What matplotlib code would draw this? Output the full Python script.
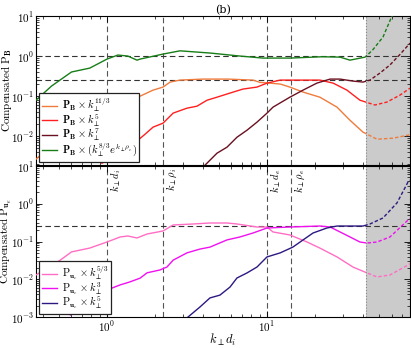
import numpy as np
import matplotlib
matplotlib.use("Agg")
from matplotlib import pyplot as plt
from matplotlib import transforms as mtransforms
from matplotlib.patches import Rectangle
from matplotlib.ticker import FuncFormatter, LogLocator, NullFormatter

plt.rcParams['mathtext.fontset'] = 'cm'
plt.rcParams['font.family'] = ['DejaVu Serif']

# ---- data ----
k_min, k_max = 0.36, 78.3
k_shade = 41.4
k_marks = [1.0, 2.24, 10.0, 14.1]
mark_labels = [r'$k_\perp d_i$', r'$k_\perp \rho_i$', r'$k_\perp d_e$', r'$k_\perp \rho_e$']
ref_top = [1.0, 0.25]
ref_bot = [0.25]

# top panel: P_B compensated
k_green = [0.36, 0.45, 0.60, 0.78, 1.0, 1.17, 1.35, 1.54, 1.61, 2.24, 2.86, 4.40, 6.78, 9.44,
           13.9, 22.1, 28.6, 33.0, 41.0, 45.7, 53.1, 60.0, 64.0]
p_green = [0.079, 0.178, 0.40, 0.50, 0.84, 1.06, 1.0, 0.79, 0.84, 1.12, 1.35, 1.19, 1.0, 0.89,
           0.89, 0.96, 0.94, 0.79, 0.94, 1.41, 2.99, 9.4, 14.0]
k_orange = [0.36, 0.51, 0.60, 0.78, 1.0, 1.07, 1.21, 1.56, 1.94, 2.24, 2.48, 2.86, 3.98, 5.70,
            8.18, 9.04, 10.4, 12.1, 13.9, 16.8, 21.4, 27.4, 33.0, 39.8, 48.7, 61.3, 76.1, 78.3]
p_orange = [0.00266, 0.0094, 0.0266, 0.043, 0.092, 0.094, 0.112, 0.094, 0.141, 0.168, 0.224, 0.251,
            0.266, 0.266, 0.251, 0.22, 0.211, 0.20, 0.168, 0.126, 0.094, 0.053, 0.025, 0.0126,
            0.0084, 0.0089, 0.0106, 0.011]
k_red = [0.93, 1.21, 1.56, 1.73, 1.94, 2.24, 2.59, 3.16, 3.65, 4.22, 4.87, 5.87, 7.08, 8.66,
         10.0, 12.1, 17.8, 21.4, 25.9, 31.6, 38.1, 47.3, 56.2, 67.8, 78.3]
p_red = [0.00211, 0.00376, 0.0079, 0.0112, 0.0168, 0.0211, 0.0376, 0.050, 0.056, 0.079, 0.094,
         0.119, 0.150, 0.168, 0.211, 0.251, 0.251, 0.251, 0.211, 0.141, 0.079, 0.060, 0.071,
         0.106, 0.158]
k_maroon = [3.98, 4.87, 5.62, 6.49, 7.50, 8.66, 10.0, 10.9, 13.9, 16.8, 20.5, 24.8, 28.6, 34.5,
            39.8, 44.0, 50.8, 58.7, 67.8, 78.3]
p_maroon = [0.00168, 0.00376, 0.0053, 0.0094, 0.0141, 0.0224, 0.0376, 0.053, 0.094, 0.141, 0.211,
            0.266, 0.266, 0.237, 0.224, 0.251, 0.376, 0.60, 1.1, 2.1]

# bottom panel: P_ue compensated
k_pink = [0.36, 0.51, 0.60, 0.78, 1.0, 1.21, 1.35, 1.54, 1.78, 2.24, 2.59, 3.45, 4.40, 5.62,
          6.49, 8.66, 10.0, 10.9, 13.9, 17.8, 21.4, 27.4, 34.5, 42.2, 48.7, 58.7, 76.1, 78.3]
p_pink = [0.013, 0.032, 0.053, 0.067, 0.097, 0.132, 0.140, 0.124, 0.158, 0.190, 0.274, 0.291,
          0.309, 0.309, 0.291, 0.242, 0.242, 0.179, 0.149, 0.097, 0.067, 0.039, 0.021, 0.0147,
          0.0115, 0.013, 0.0238, 0.026]
k_mag = [0.59, 0.78, 1.0, 1.21, 1.39, 1.61, 1.78, 2.14, 2.37, 2.59, 3.16, 3.81, 4.40, 5.62,
         6.78, 8.18, 10.0, 13.9, 21.4, 24.8, 28.6, 33.0, 38.1, 42.2, 48.7, 58.7, 76.1, 78.3]
p_mag = [0.00113, 0.0025, 0.0052, 0.0071, 0.0085, 0.0107, 0.0148, 0.0176, 0.0211, 0.032, 0.050,
         0.063, 0.071, 0.110, 0.132, 0.168, 0.228, 0.242, 0.257, 0.242, 0.179, 0.132, 0.097,
         0.091, 0.097, 0.132, 0.37, 0.40]
k_ind = [3.21, 3.81, 4.40, 5.08, 5.87, 6.49, 7.50, 8.66, 10.0, 12.1, 14.5, 16.8, 19.4, 23.7,
         27.4, 39.8, 44.0, 53.1, 64.9, 76.1, 78.3]
p_ind = [0.001, 0.00184, 0.0032, 0.0038, 0.0062, 0.0108, 0.0147, 0.0211, 0.039, 0.050, 0.071,
         0.110, 0.168, 0.228, 0.257, 0.257, 0.291, 0.42, 1.05, 3.77, 4.2]

top_curves = [
    (k_orange, p_orange, '#ef7b3c', r'$\mathbf{P}_{\mathbf{B}}\times k_\perp^{11/3}$'),
    (k_red, p_red, '#ff1f1f', r'$\mathbf{P}_{\mathbf{B}}\times k_\perp^{5}$'),
    (k_maroon, p_maroon, '#6a1020', r'$\mathbf{P}_{\mathbf{B}}\times k_\perp^{7}$'),
    (k_green, p_green, '#177d17', r'$\mathbf{P}_{\mathbf{B}}\times (k_\perp^{8/3}e^{k_\perp\rho_e})$'),
]
bot_curves = [
    (k_pink, p_pink, '#ff6ec4', r'$\mathrm{P}_{\mathbf{u}_e}\times k_\perp^{5/3}$'),
    (k_mag, p_mag, '#f010f0', r'$\mathrm{P}_{\mathbf{u}_e}\times k_\perp^{3}$'),
    (k_ind, p_ind, '#2e1882', r'$\mathrm{P}_{\mathbf{u}_e}\times k_\perp^{5}$'),
]

fig = plt.figure(figsize=(4.11, 3.48), dpi=100)
ax1 = fig.add_axes([36/411, 1-165/348, 374/411, 149/348])
ax2 = fig.add_axes([36/411, 1-317/348, 374/411, 151/348])

def decade(v, pos):
    return r'$10^{%d}$' % int(round(np.log10(v)))

def setup(ax, ylo, yhi):
    ax.set_xscale('log')
    ax.set_yscale('log')
    ax.set_xlim(k_min, k_max)
    ax.set_ylim(ylo, yhi)
    ax.tick_params(which='both', direction='in', top=True, right=True, labelsize=8, pad=1.5)
    ax.tick_params(which='major', length=4, width=0.6)
    ax.tick_params(which='minor', length=2, width=0.5)
    ax.yaxis.set_major_locator(LogLocator(base=10, numticks=10))
    ax.yaxis.set_minor_locator(LogLocator(base=10, subs=np.arange(2, 10), numticks=20))
    ax.yaxis.set_major_formatter(FuncFormatter(decade))
    ax.yaxis.set_minor_formatter(NullFormatter())
    ax.xaxis.set_major_formatter(FuncFormatter(decade))
    ax.xaxis.set_minor_formatter(NullFormatter())
    for s in ax.spines.values():
        s.set_linewidth(0.8)
    # shaded region
    ax.axvspan(k_shade, k_max, color='#cbcbcb', lw=0, zorder=0)
    ax.axvline(k_shade, color='#888888', ls=':', lw=0.8, zorder=1)
    for km in k_marks:
        ax.axvline(km, color='#555555', ls=(0, (5, 3)), lw=0.8, zorder=1)

def draw(ax, curves):
    tr = mtransforms.blended_transform_factory(ax.transData, ax.transAxes)
    for k, p, c, lab in curves:
        solid, = ax.plot(k, p, color=c, lw=1.0, label=lab, zorder=3)
        solid.set_clip_path(Rectangle((k_min, 0), k_shade - k_min, 1, transform=tr))
        dash, = ax.plot(k, p, color=c, lw=1.0, ls=(0, (2.5, 1.5)), zorder=3)
        dash.set_clip_path(Rectangle((k_shade, 0), k_max - k_shade, 1, transform=tr))

setup(ax1, 10**-2.72, 10)
setup(ax2, 1e-3, 10)
ax1.tick_params(labelbottom=False)

for r in ref_top:
    ax1.axhline(r, color='#333333', ls=(0, (5, 3)), lw=0.8, zorder=2)
for r in ref_bot:
    ax2.axhline(r, color='#333333', ls=(0, (5, 3)), lw=0.8, zorder=2)

draw(ax1, top_curves)
draw(ax2, bot_curves)

tr2 = mtransforms.blended_transform_factory(ax2.transData, ax2.transAxes)
for km, lab in zip(k_marks, mark_labels):
    ax2.text(km * 1.02, 0.985, lab, transform=tr2, rotation=90, ha='left', va='top', fontsize=7.5)

leg_kw = dict(loc='lower left', fontsize=7.5, frameon=True, fancybox=False, edgecolor='#222222',
              framealpha=1, borderaxespad=0.3, handlelength=1.5, handletextpad=0.4,
              borderpad=0.25)
l1 = ax1.legend(labelspacing=-0.19, **leg_kw)
l1.get_frame().set_linewidth(0.9)
l2 = ax2.legend(labelspacing=-0.2, **leg_kw)
l2.get_frame().set_linewidth(0.9)

ax1.set_ylabel(r'$\mathrm{Compensated\ P}_{\mathbf{B}}$', fontsize=8)
ax2.set_ylabel(r'$\mathrm{Compensated\ P}_{\mathbf{u}_e}$', fontsize=8)
ax1.yaxis.set_label_coords(-0.06, 0.5)
ax2.yaxis.set_label_coords(-0.06, 0.5)
ax2.set_xlabel(r'$k_\perp d_i$', fontsize=9, labelpad=-1)
ax1.set_title('(b)', fontsize=8, pad=2, family='DejaVu Serif')

fig.savefig('out.png', dpi=100)
